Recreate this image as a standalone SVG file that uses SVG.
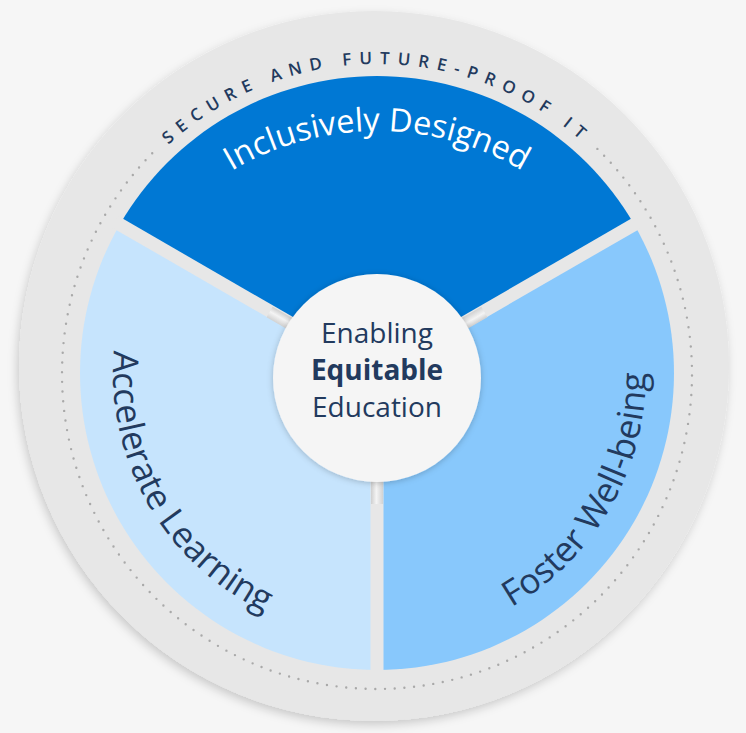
<svg xmlns="http://www.w3.org/2000/svg" width="746" height="733" viewBox="0 0 746 733">
  <style>
    .lbl { font-family: "Open Sans", "Noto Sans", "DejaVu Sans", sans-serif; }
    .dark { fill: #223a5e; }
    .ring-text { font-size: 17px; letter-spacing: 7.8px; font-weight: 600; }
    .seg-text { font-size: 35px; }
    .center-text { font-size: 28px; text-anchor: middle; }
    .gap { stroke: #e7e7e7; stroke-width: 13; }
  </style>
  <defs>
    <filter id="outerShadow" x="-10%" y="-10%" width="120%" height="120%">
      <feDropShadow dx="-2" dy="4" stdDeviation="5" flood-color="#000" flood-opacity="0.18"/>
    </filter>
    <filter id="centerShadow" x="-20%" y="-20%" width="140%" height="140%">
      <feDropShadow dx="0" dy="1" stdDeviation="3" flood-color="#000" flood-opacity="0.22"/>
    </filter>
    <linearGradient id="tube" x1="0" y1="0" x2="1" y2="0">
      <stop offset="0" stop-color="#cfcfcf"/>
      <stop offset="0.45" stop-color="#f4f4f4"/>
      <stop offset="1" stop-color="#d2d2d2"/>
    </linearGradient>
    <path id="ringPath" d="M85.7,268 A310,310 0 0 1 668.3,268"/>
    <path id="topPath" d="M109.2,318.5 A285,285 0 0 1 644.8,318.5"/>
    <path id="leftPath" d="M128.9,282.7 A264,264 0 0 0 331.2,633"/>
    <path id="rightPath" d="M423.9,638.9 A268,268 0 0 0 628.8,281.3"/>
  </defs>

  <rect x="0" y="0" width="746" height="733" fill="#f6f6f6"/>

  <g id="outer-ring">
    <circle cx="374" cy="366" r="355" fill="#e7e7e7" filter="url(#outerShadow)"/>
    <path d="M597.4,148.9 A315,315 0 1 1 156.2,149.3" fill="none" stroke="#a9a9a9" stroke-width="2.4" stroke-linecap="round" stroke-dasharray="0 9.7"/>
    <text class="lbl dark ring-text"><textPath href="#ringPath" startOffset="50%" text-anchor="middle">SECURE AND FUTURE-PROOF IT</textPath></text>
  </g>

  <g id="sector-inclusively-designed">
    <path d="M377,373 L119.8,224.5 A297,297 0 0 1 634.2,224.5 Z" fill="#0078d4"/>
    <text class="lbl" fill="#ffffff" font-size="32.5"><textPath href="#topPath" startOffset="50%" text-anchor="middle">Inclusively Designed</textPath></text>
  </g>

  <g id="sector-foster-well-being">
    <path d="M377,373 L634.2,224.5 A297,297 0 0 1 377,670 Z" fill="#88c8fc"/>
    <text class="lbl dark seg-text"><textPath href="#rightPath" startOffset="50%" text-anchor="middle">Foster Well-being</textPath></text>
  </g>

  <g id="sector-accelerate-learning">
    <path d="M377,373 L377,670 A297,297 0 0 1 119.8,224.5 Z" fill="#c6e4fd"/>
    <text class="lbl dark seg-text"><textPath href="#leftPath" startOffset="50%" text-anchor="middle">Accelerate Learning</textPath></text>
  </g>

  <g id="connectors">
    <line class="gap" x1="377" y1="373" x2="114.6" y2="221.5"/>
    <line class="gap" x1="377" y1="373" x2="639.4" y2="221.5"/>
    <line class="gap" x1="377" y1="373" x2="377" y2="676"/>
    <rect x="-6" y="98" width="12" height="26" fill="url(#tube)" transform="translate(377,374) rotate(120)"/>
    <rect x="-6" y="98" width="12" height="26" fill="url(#tube)" transform="translate(377,374) rotate(-120)"/>
    <rect x="-6" y="98" width="12" height="32" fill="url(#tube)" transform="translate(377,374)"/>
  </g>

  <g id="center">
    <circle cx="377" cy="378" r="104" fill="#f5f5f5" filter="url(#centerShadow)"/>
    <text class="lbl dark center-text" x="377" y="343">Enabling</text>
    <text class="lbl dark center-text" x="377" y="380" font-weight="700">Equitable</text>
    <text class="lbl dark center-text" x="377" y="417">Education</text>
  </g>
</svg>
